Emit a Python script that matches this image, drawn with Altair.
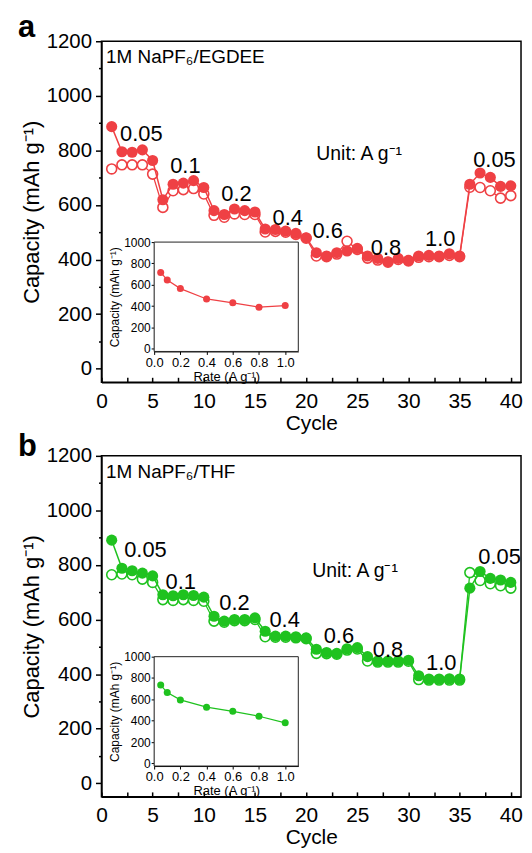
import altair as alt
import pandas as pd

# ---------------- data ----------------
cycles = list(range(1, 41))

a_filled = [887, 795, 793, 802, 763, 619, 676, 680, 689, 664,
            579, 565, 585, 579, 574, 512, 510, 504, 496, 480,
            425, 413, 425, 431, 441, 413, 404, 392, 404, 397,
            413, 415, 413, 421, 413, 676, 717, 701, 668, 670]
a_open = [732, 747, 747, 747, 713, 591, 652, 656, 660, 640,
          562, 555, 567, 565, 565, 501, 503, 500, 492, 478,
          413, 410, 420, 467, 437, 405, 398, 390, 400, 395,
          408, 410, 410, 415, 410, 665, 664, 652, 625, 634]

b_filled = [891, 788, 779, 770, 760, 691, 687, 691, 688, 682,
            612, 594, 600, 600, 606, 557, 539, 539, 537, 533,
            491, 479, 476, 493, 497, 464, 448, 448, 448, 451,
            394, 382, 382, 383, 382, 715, 776, 751, 745, 736]
b_open = [764, 767, 764, 748, 736, 673, 670, 673, 670, 667,
          594, 590, 596, 596, 600, 537, 535, 535, 533, 530,
          476, 475, 473, 488, 492, 448, 444, 444, 444, 447,
          380, 378, 378, 378, 378, 772, 743, 731, 724, 715]

rates = [0.05, 0.1, 0.2, 0.4, 0.6, 0.8, 1.0]
a_inset = [716, 645, 564, 467, 431, 390, 405]
b_inset = [734, 664, 595, 527, 488, 442, 380]

rate_text = ["0.05", "0.1", "0.2", "0.4", "0.6", "0.8", "1.0", "0.05"]
a_rate_x = [3.9, 8.2, 13.2, 18.2, 22.1, 27.8, 33.1, 38.4]
a_rate_y = [861, 741, 639, 551, 504, 442, 475, 766]
b_rate_x = [4.3, 7.75, 13.0, 17.9, 23.2, 28.0, 33.2, 38.9]
b_rate_y = [855, 739, 662, 597, 539, 488, 442, 829]

x_ticks = list(range(0, 41, 5))
x_all_ticks = [i * 2.5 for i in range(17)]
y_ticks = list(range(0, 1201, 200))
y_minor_ticks = list(range(100, 1200, 200))
inset_x_ticks = [0.0, 0.2, 0.4, 0.6, 0.8, 1.0]
inset_y_ticks = list(range(0, 1001, 200))

# ---------------- style ----------------
FONT = "Liberation Sans"
RED = "#ef4044"
GREEN = "#1fc21f"
W, H = 422, 343
INSET_X = [53, 198]
INSET_Y = [312, 202]


def panel(letter, letter_y, solvent, filled, opened, color, rx, ry, unit_xy, inset_vals):
    df = pd.DataFrame({"cycle": cycles, "filled": filled, "open": opened})
    xs = alt.Scale(domain=[0, 41], nice=False, zero=False)
    ys = alt.Scale(domain=[-50, 1200], nice=False, zero=False)
    xax = alt.Axis(values=x_ticks, title="Cycle", format="d", labelFontSize=21, titleFontSize=21,
                   ticks=False, labelPadding=8, titlePadding=1, labelFlush=False,
                   labelOverlap=False, titleFontWeight="normal")
    yax = alt.Axis(values=y_ticks, title="Capacity (mAh g\u207b\u00b9)", format="d", labelFontSize=20.5,
                   titleFontSize=22, tickSize=6, labelPadding=4, titlePadding=3,
                   labelFlush=False, labelOverlap=False, titleFontWeight="normal")

    def X(f):
        return alt.X(f, scale=xs, axis=xax)

    def Y(f):
        return alt.Y(f, scale=ys, axis=yax)

    base = alt.Chart(df)
    open_line = base.mark_line(color=color, strokeWidth=1.3).encode(x=X("cycle:Q"), y=Y("open:Q"))
    open_pts = base.mark_point(shape="circle", filled=True, fill="white", stroke=color,
                               strokeWidth=1.6, size=100, opacity=1).encode(x=X("cycle:Q"), y=Y("open:Q"))
    fill_line = base.mark_line(color=color, strokeWidth=1.5).encode(x=X("cycle:Q"), y=Y("filled:Q"))
    fill_pts = base.mark_circle(color=color, size=125, opacity=1).encode(x=X("cycle:Q"), y=Y("filled:Q"))

    tdf = pd.DataFrame({"x": rx, "y": ry, "t": rate_text})
    rate_lbl = alt.Chart(tdf).mark_text(font=FONT, fontSize=22, color="black",
                                        baseline="middle", align="center").encode(
        x=X("x:Q"), y=Y("y:Q"), text="t:N")

    sdf = pd.DataFrame({"x": [0.45], "y": [1119], "t": [solvent]})
    solv = alt.Chart(sdf).mark_text(font=FONT, fontSize=19, color="black",
                                    baseline="alphabetic", align="left").encode(
        x=X("x:Q"), y=Y("y:Q"), text="t:N")

    udf = pd.DataFrame({"x": [unit_xy[0]], "y": [unit_xy[1]], "t": ["Unit: A g\u207b\u00b9"]})
    unit = alt.Chart(udf).mark_text(font=FONT, fontSize=19.5, color="black",
                                    baseline="alphabetic", align="left").encode(
        x=X("x:Q"), y=Y("y:Q"), text="t:N")

    ldf = pd.DataFrame({"t": [letter]})
    let = alt.Chart(ldf).mark_text(font=FONT, fontSize=31, fontWeight="bold", color="black",
                                   baseline="alphabetic", align="left").encode(
        x=alt.value(-84), y=alt.value(letter_y), text="t:N")

    main = alt.layer(open_line, open_pts, fill_line, fill_pts, rate_lbl, solv, unit, let)

    # inward x ticks (major + minor) and minor y ticks
    tx_ax = alt.Axis(orient="top", offset=-H, values=x_all_ticks, labels=False, domain=False,
                     tickSize=5, tickWidth=1.5, title=None)
    ty_ax = alt.Axis(orient="left", values=y_minor_ticks, labels=False, domain=False,
                     tickSize=3, tickWidth=1.5, title=None)
    ticks = base.mark_point(opacity=0).encode(
        x=alt.X("cycle:Q", scale=alt.Scale(domain=[0, 41], nice=False, zero=False), axis=tx_ax),
        y=alt.Y("filled:Q", scale=alt.Scale(domain=[-50, 1200], nice=False, zero=False), axis=ty_ax))

    # inset
    idf = pd.DataFrame({"rate": rates, "cap": inset_vals})
    ixax = alt.Axis(orient="bottom", offset=-(H - INSET_Y[0]), values=inset_x_ticks, format=".1f",
                    title="Rate (A g\u207b\u00b9)", labelFontSize=13, titleFontSize=13,
                    tickSize=3, labelPadding=2, titlePadding=1, labelFlush=False,
                    labelOverlap=False, domainWidth=1, tickWidth=1, titleFontWeight="normal")
    iyax = alt.Axis(orient="left", offset=-INSET_X[0], values=inset_y_ticks, format="d",
                    title="Capacity (mAh g\u207b\u00b9)", labelFontSize=12, titleFontSize=12,
                    tickSize=3, labelPadding=1, titlePadding=2, labelFlush=False,
                    labelOverlap=False, domainWidth=1, tickWidth=1, titleFontWeight="normal")
    ixs = alt.Scale(domain=[0, 1.1], range=INSET_X, nice=False, zero=False)
    iys = alt.Scale(domain=[-25, 1000], range=INSET_Y, nice=False, zero=False)
    frame = alt.Chart(pd.DataFrame({"k": [0]})).mark_rect(
        fill="white", stroke="#222222", strokeWidth=1).encode(
        x=alt.value(INSET_X[0]), x2=alt.value(INSET_X[1]),
        y=alt.value(INSET_Y[1]), y2=alt.value(INSET_Y[0]))
    ibase = alt.Chart(idf)
    iline = ibase.mark_line(color=color, strokeWidth=1.2).encode(
        x=alt.X("rate:Q", scale=ixs, axis=ixax), y=alt.Y("cap:Q", scale=iys, axis=iyax))
    ipts = ibase.mark_circle(color=color, size=50, opacity=1).encode(
        x=alt.X("rate:Q", scale=ixs, axis=ixax), y=alt.Y("cap:Q", scale=iys, axis=iyax))
    inset = alt.layer(frame, iline, ipts)

    return alt.layer(main, ticks, inset).resolve_scale(x="independent", y="independent").properties(
        width=W, height=H)


pa = panel("a", -4, "1M NaPF\u2086/EGDEE", a_filled, a_open, RED, a_rate_x, a_rate_y, (21.0, 766), a_inset)
pb = panel("b", 0, "1M NaPF\u2086/THF", b_filled, b_open, GREEN, b_rate_x, b_rate_y, (20.6, 755), b_inset)

chart = alt.vconcat(pa, pb, spacing=-4).properties(
    padding={"left": 9, "top": 1, "right": 0, "bottom": 0}
).configure_view(stroke="black", strokeWidth=1.5).configure_axis(
    domainColor="black", domainWidth=1.5, tickColor="black", tickWidth=1.5,
    labelColor="black", titleColor="black", labelFont=FONT, titleFont=FONT, grid=False
)

chart.save("out.html", embed_options={"renderer": "svg", "actions": False})
